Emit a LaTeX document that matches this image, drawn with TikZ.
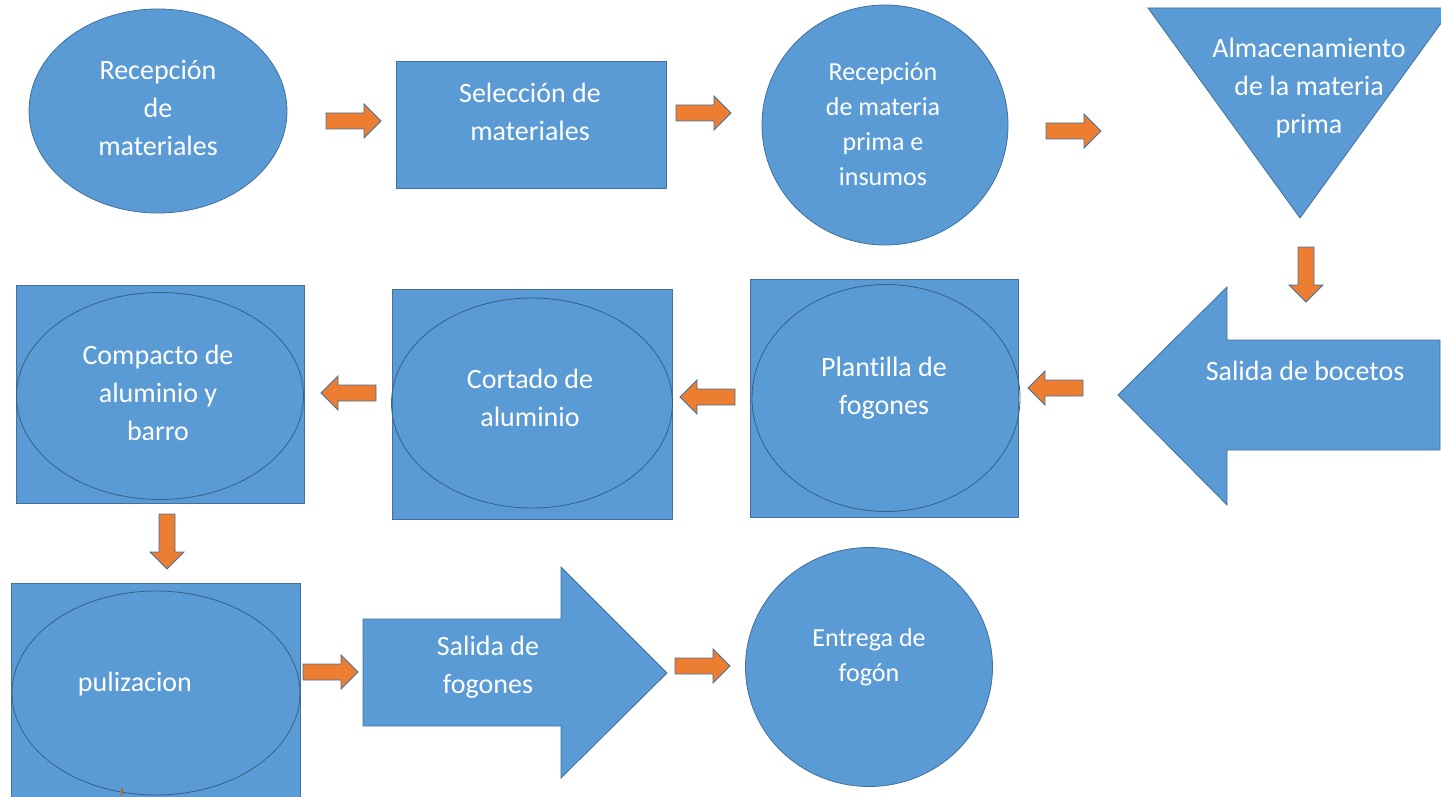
\documentclass[tikz,border=0pt]{standalone}
\usepackage{fontspec}
\setmainfont{Carlito}[Ligatures=NoCommon]
\usetikzlibrary{shapes.geometric}
\definecolor{boxblue}{RGB}{91,155,213}
\definecolor{edgeblue}{RGB}{65,113,156}
\definecolor{arrorange}{RGB}{237,125,49}

\begin{document}
\begin{tikzpicture}[x=1pt,y=-1pt,
    txt/.style={text=white,align=center,inner sep=0pt,font=\fontsize{28}{38}\selectfont},
    smalltxt/.style={txt,font=\fontsize{26}{35}\selectfont},
    blob/.style={fill=boxblue,draw=edgeblue,line width=0.8pt,inner sep=0pt},
    ring/.style={draw=edgeblue!85!black,line width=0.8pt,ellipse,inner sep=0pt},
    orarrow/.pic={\filldraw[fill=arrorange,draw=edgeblue,line width=0.8pt]
        (-27,-8) -- (11,-8) -- (11,-17) -- (28,0) -- (11,17) -- (11,8) -- (-27,8) -- cycle;}]
    \clip (0,0) rectangle (1441,797); % page size
    % first row
    \node[blob,ellipse,minimum width=258,minimum height=204] (recmat) at (158,111) {};
    \node[blob,rectangle,minimum width=270,minimum height=127] (selmat) at (531,124.5) {};
    \node[blob,ellipse,minimum width=246,minimum height=240] (recprima) at (885,125) {};
    \draw[blob] (1148,8) -- (1452,8) -- (1300,218) -- cycle; % storage triangle
    \node[txt] (recmatT) at (158,108) {Recepción\\de\\materiales};
    \node[txt] (selmatT) at (530,112) {Selección de\\materiales};
    \node[smalltxt] (recprimaT) at (883,124) {Recepción\\de materia\\prima e\\insumos};
    \node[txt] (almacenT) at (1309,88) {Almacenamiento\\de la materia\\prima};
    % second row
    \draw[blob] (1440,340) -- (1227,340) -- (1227,287) -- (1118,395) % sketches arrow
        -- (1227,505) -- (1227,450) -- (1440,450) -- cycle;
    \node[txt] (bocetosT) at (1305,371) {Salida de bocetos};
    \node[blob,rectangle,minimum width=268,minimum height=238] (plantilla) at (884,398) {};
    \node[ring,minimum width=268,minimum height=227] (plantillaO) at (886,398) {};
    \node[txt] (plantillaT) at (884,388) {Plantilla de\\fogones};
    \node[blob,rectangle,minimum width=280,minimum height=230] (cortado) at (532,404) {};
    \node[ring,minimum width=281,minimum height=210] (cortadoO) at (532,403) {};
    \node[txt] (cortadoT) at (530,398) {Cortado de\\aluminio};
    \node[blob,rectangle,minimum width=288,minimum height=218] (compacto) at (160,394) {};
    \node[ring,minimum width=287,minimum height=207] (compactoO) at (160,396) {};
    \node[txt] (compactoT) at (158,393) {Compacto de\\aluminio y\\barro};
    % third row
    \node[blob,rectangle,minimum width=289,minimum height=227] (puli) at (155.5,696.5) {};
    \node[ring,minimum width=288,minimum height=204] (puliO) at (156,693) {};
    \node[txt] (puliT) at (135,684) {pulizacion};
    \draw[blob] (363,619) -- (561,619) -- (561,567) -- (667,673) % stoves arrow
        -- (561,778) -- (561,726) -- (363,726) -- cycle;
    \node[txt] (fogonesT) at (488,667) {Salida de\\fogones};
    \node[blob,ellipse,minimum width=247,minimum height=239] (entrega) at (869,667) {};
    \node[smalltxt] (entregaT) at (869,657) {Entrega de\\fogón};
    % small orange arrows
    \pic at (353,121) {orarrow};
    \pic at (703,113) {orarrow};
    \pic at (1073,131) {orarrow};
    \pic[rotate=-90] at (1306,274) {orarrow};
    \pic[rotate=180] at (1056,388) {orarrow};
    \pic[rotate=180] at (708,397) {orarrow};
    \pic[rotate=180] at (349,393) {orarrow};
    \pic[rotate=-90] at (167,541) {orarrow};
    \pic at (330,672) {orarrow};
    \pic at (702,666) {orarrow};
    \coordinate (stub) at (122,788);
    \draw[arrorange!80!black,line width=1.5pt] (stub) -- (puliO.south -| stub); % cut-off arrow
\end{tikzpicture}
\end{document}
